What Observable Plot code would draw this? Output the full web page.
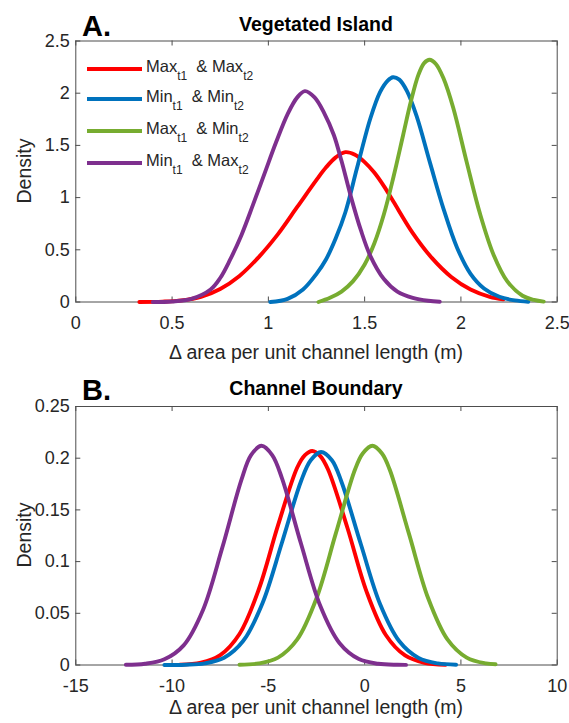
<!DOCTYPE html>
<html>
<head>
<meta charset="utf-8">
<script src="https://cdn.jsdelivr.net/npm/d3@7"></script>
<script src="https://cdn.jsdelivr.net/npm/@observablehq/plot@0.6"></script>
<style>
  html, body { margin: 0; padding: 0; background: #fff; }
  #wrap { position: relative; width: 569px; height: 723px; overflow: hidden; font-family: "Liberation Sans", Arial, sans-serif; color: #262626; }
  .abs { position: absolute; white-space: nowrap; line-height: 1; }
  .c { transform: translate(-50%, -50%); }
  .sub { font-size: 12px; vertical-align: -8px; }
</style>
</head>
<body>
<div id="wrap"></div>
<script>
// ---------------- data ----------------
const keys = ["MaxMax", "MinMin", "MaxMin", "MinMax"];
const legendFirst = ["Max", "Min", "Max", "Min"];
const legendSecond = ["Max", "Min", "Min", "Max"];
const subscripts = ["t1", "t2"];

const titles = ["Vegetated Island", "Channel Boundary"];
const panelLetters = ["A.", "B."];
const xLabel = "\u0394 area per unit channel length (m)";
const yLabel = "Density";

const islandTicksX = [0, 0.5, 1, 1.5, 2, 2.5];
const islandTicksY = [0, 0.5, 1, 1.5, 2, 2.5];
const channelTicksX = [-15, -10, -5, 0, 5, 10];
const channelTicksY = [0, 0.05, 0.1, 0.15, 0.2, 0.25];

// Panel A: Vegetated Island  [x, density]
const islandMaxMax = [[0.33,0],[0.45,0.004],[0.55,0.016],[0.65,0.05],[0.75,0.125],[0.85,0.25],[0.95,0.43],[1.05,0.65],[1.15,0.91],[1.25,1.17],[1.30,1.29],[1.35,1.385],[1.40,1.435],[1.45,1.41],[1.50,1.34],[1.55,1.24],[1.60,1.11],[1.65,0.96],[1.75,0.66],[1.85,0.42],[1.95,0.24],[2.05,0.12],[2.15,0.05],[2.22,0.025]];
const islandMinMin = [[1.01,0],[1.10,0.03],[1.18,0.12],[1.25,0.27],[1.30,0.41],[1.35,0.61],[1.40,0.86],[1.46,1.28],[1.53,1.76],[1.58,2.01],[1.62,2.12],[1.647,2.153],[1.68,2.13],[1.72,2.02],[1.77,1.78],[1.84,1.33],[1.91,0.89],[1.98,0.52],[2.05,0.27],[2.12,0.13],[2.20,0.05],[2.28,0.015],[2.35,0.003]];
const islandMaxMin = [[1.26,0],[1.32,0.04],[1.38,0.10],[1.44,0.20],[1.50,0.36],[1.55,0.56],[1.60,0.84],[1.65,1.20],[1.70,1.60],[1.74,1.92],[1.78,2.18],[1.81,2.29],[1.837,2.32],[1.87,2.28],[1.91,2.14],[1.96,1.86],[2.03,1.34],[2.10,0.84],[2.17,0.45],[2.24,0.20],[2.32,0.06],[2.38,0.02],[2.43,0.004]];
const islandMinMax = [[0.40,0],[0.50,0.005],[0.60,0.03],[0.70,0.12],[0.75,0.23],[0.80,0.40],[0.86,0.64],[0.92,0.93],[0.98,1.23],[1.04,1.53],[1.10,1.80],[1.15,1.96],[1.19,2.02],[1.24,1.96],[1.29,1.81],[1.34,1.60],[1.38,1.35],[1.43,1.00],[1.48,0.69],[1.53,0.44],[1.60,0.22],[1.67,0.10],[1.75,0.04],[1.83,0.012],[1.89,0.003]];

// Panel B: Channel Boundary  [x, density]
const channelMaxMax = [[-9.6,0.0004],[-8.5,0.0023],[-7.5,0.0096],[-6.5,0.030],[-5.5,0.073],[-4.5,0.135],[-3.5,0.191],[-3.1,0.203],[-2.72,0.207],[-2.3,0.202],[-1.9,0.189],[-0.9,0.133],[0.1,0.071],[1.1,0.029],[2.1,0.0092],[3.1,0.0022],[4.2,0.0003]];
const channelMinMin = [[-10.4,0],[-9.3,0.0003],[-8.3,0.0016],[-7.3,0.007],[-6.3,0.0234],[-5.3,0.060],[-4.3,0.118],[-3.3,0.178],[-2.8,0.198],[-2.26,0.206],[-1.7,0.198],[-1.2,0.177],[-0.2,0.117],[0.8,0.059],[1.8,0.0229],[2.8,0.0068],[3.8,0.0015],[4.75,0.0003]];
const channelMaxMin = [[-6.5,0.0003],[-5.5,0.0015],[-4.5,0.0071],[-3.5,0.0247],[-2.5,0.0645],[-1.5,0.127],[-0.5,0.189],[-0.1,0.2045],[0.4,0.212],[0.9,0.2045],[1.3,0.189],[2.3,0.127],[3.3,0.0645],[4.3,0.0247],[5.3,0.0071],[6.3,0.0015],[6.8,0.0007]];
const channelMinMax = [[-12.4,0.0002],[-11.4,0.0012],[-10.4,0.0055],[-9.4,0.019],[-8.4,0.053],[-7.4,0.113],[-6.4,0.179],[-5.9,0.203],[-5.35,0.212],[-4.8,0.203],[-4.3,0.181],[-3.3,0.117],[-2.3,0.057],[-1.3,0.021],[-0.3,0.0057],[0.7,0.0012],[1.7,0.0002],[2.15,0.0001]];

// ---------------- styling ----------------
const palette = ["#FF0000", "#0072BD", "#77AC30", "#7E2F8E"];
const axisColor = "#4d4d4d";
const W = 569, ML = 75.3, MR = 12.3, TICK = 5;

function rows(list) {
  return list.flatMap((pts, i) => pts.map(([x, y]) => ({x, y, k: keys[i]})));
}

function panel({data, xDomain, yDomain, xTicks, yTicks, height, mt, mb}) {
  const fw = W - ML - MR, fh = height - mt - mb;
  return Plot.plot({
    width: W, height,
    marginLeft: ML, marginRight: MR, marginTop: mt, marginBottom: mb,
    style: {fontFamily: '"Liberation Sans", Arial, sans-serif', fontSize: "18px", color: "#262626", background: "transparent", overflow: "visible"},
    x: {domain: xDomain, ticks: xTicks, tickSize: 0, tickPadding: 14, tickFormat: d => String(d), label: null},
    y: {domain: yDomain, ticks: yTicks, tickSize: 0, tickPadding: 6, tickFormat: d => String(d), label: null},
    color: {domain: keys, range: palette},
    marks: [
      Plot.frame({stroke: axisColor, strokeWidth: 1}),
      Plot.tickX(xTicks, {x: d => d, insetTop: fh - TICK, stroke: axisColor}),
      Plot.tickX(xTicks, {x: d => d, insetBottom: fh - TICK, stroke: axisColor}),
      Plot.tickY(yTicks, {y: d => d, insetRight: fw - TICK, stroke: axisColor}),
      Plot.tickY(yTicks, {y: d => d, insetLeft: fw - TICK, stroke: axisColor}),
      Plot.line(data, {x: "x", y: "y", z: "k", stroke: "k", strokeWidth: 3.9, curve: "catmull-rom", strokeLinejoin: "round"})
    ]
  });
}

const wrap = document.getElementById("wrap");

function place(el, left, top) {
  el.classList.add("abs");
  el.style.left = left + "px";
  el.style.top = top + "px";
  wrap.appendChild(el);
  return el;
}
function text(str, cx, cy, css, centered = true) {
  const d = document.createElement("div");
  d.textContent = str;
  Object.assign(d.style, css || {});
  if (centered) d.classList.add("c");
  return place(d, cx, cy);
}

// Panel A
const plotA = panel({
  data: rows([islandMaxMax, islandMinMin, islandMaxMin, islandMinMax]),
  xDomain: [0, 2.5], yDomain: [0, 2.5],
  xTicks: islandTicksX, yTicks: islandTicksY,
  height: 375, mt: 40.5, mb: 73.5
});
place(plotA, 0, 0);

// Panel B
const plotB = panel({
  data: rows([channelMaxMax, channelMinMin, channelMaxMin, channelMinMax]),
  xDomain: [-15, 10], yDomain: [0, 0.25],
  xTicks: channelTicksX, yTicks: channelTicksY,
  height: 348, mt: 31, mb: 58.5
});
place(plotB, 0, 375);

// Titles, letters, axis labels
const letterCss = {fontSize: "29px", fontWeight: "bold", color: "#000"};
const titleCss = {fontSize: "19.5px", fontWeight: "bold", color: "#000"};
const labelCss = {fontSize: "19.5px", color: "#262626"};

text(panelLetters[0], 82, 12, letterCss, false);
text(panelLetters[1], 82, 376, letterCss, false);
text(titles[0], 316, 25, titleCss);
text(titles[1], 316, 389, titleCss);
text(xLabel, 316, 353, labelCss);
text(xLabel, 316, 708, labelCss);
const yl1 = text(yLabel, 25, 171, labelCss);
yl1.style.transform = "translate(-50%, -50%) rotate(-90deg)";
const yl2 = text(yLabel, 25, 535, labelCss);
yl2.style.transform = "translate(-50%, -50%) rotate(-90deg)";

// Legend (panel A, top-left inside axes)
const legendY = [69, 99, 131, 163];
keys.forEach((k, i) => {
  const ln = document.createElement("div");
  Object.assign(ln.style, {width: "55px", height: "4px", background: palette[i]});
  place(ln, 87, legendY[i] - 2);
  const t = document.createElement("div");
  t.style.fontSize = "16.5px";
  t.style.color = "#262626";
  t.innerHTML = `${legendFirst[i]}<span class="sub">${subscripts[0]}</span>&nbsp;&nbsp;&amp; ${legendSecond[i]}<span class="sub">${subscripts[1]}</span>`;
  place(t, 146, legendY[i] - 11);
});
</script>
</body>
</html>
